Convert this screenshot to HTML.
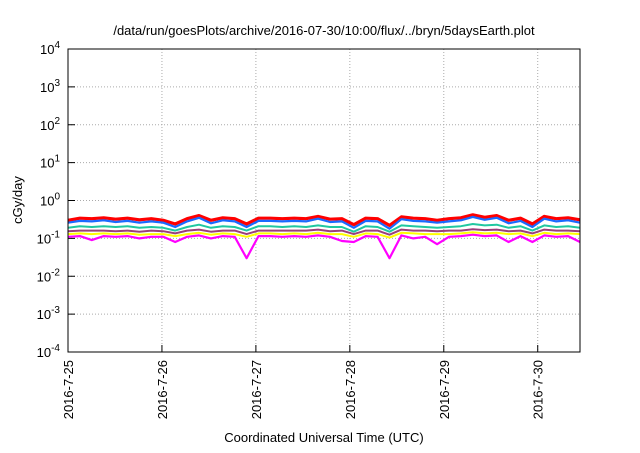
<!DOCTYPE html>
<html><head><meta charset="utf-8"><style>
body{margin:0;background:#fff;width:640px;height:448px;overflow:hidden}
svg text{font-family:"Liberation Sans",sans-serif;fill:#000}
</style></head><body>
<svg id="chart" width="640" height="448" viewBox="0 0 640 448">
<text x="324" y="35" font-size="13" text-anchor="middle">/data/run/goesPlots/archive/2016-07-30/10:00/flux/../bryn/5daysEarth.plot</text>
<g id="grid"></g>
<g id="series"></g>
<rect x="68" y="49" width="512" height="303" fill="none" stroke="#000" stroke-width="1"/>
<g id="axes"></g>
<text transform="translate(22,200) rotate(-90)" font-size="13" text-anchor="middle">cGy/day</text>
<text x="324" y="442" font-size="13" text-anchor="middle">Coordinated Universal Time (UTC)</text>
</svg>
<script>
const xTickLabels=["2016-7-25","2016-7-26","2016-7-27","2016-7-28","2016-7-29","2016-7-30"];
const yExps=[-4,-3,-2,-1,0,1,2,3,4];
const spanDays=5.45;
const red=[0.30,0.34,0.33,0.35,0.32,0.34,0.31,0.33,0.30,0.24,0.33,0.40,0.30,0.35,0.33,0.24,0.34,0.34,0.33,0.34,0.33,0.38,0.32,0.33,0.23,0.34,0.33,0.22,0.37,0.34,0.33,0.30,0.33,0.35,0.42,0.36,0.40,0.30,0.34,0.24,0.38,0.33,0.35,0.31];
const blue=[0.26,0.29,0.28,0.30,0.27,0.29,0.26,0.28,0.26,0.20,0.28,0.35,0.25,0.30,0.28,0.20,0.29,0.29,0.28,0.29,0.28,0.33,0.27,0.28,0.19,0.29,0.28,0.18,0.32,0.29,0.28,0.26,0.28,0.30,0.37,0.31,0.35,0.25,0.29,0.20,0.33,0.28,0.30,0.26];
const cyan=[0.19,0.21,0.20,0.21,0.20,0.21,0.19,0.20,0.19,0.16,0.20,0.23,0.19,0.21,0.20,0.16,0.21,0.21,0.20,0.21,0.20,0.22,0.20,0.20,0.15,0.21,0.20,0.15,0.22,0.21,0.20,0.19,0.20,0.21,0.24,0.22,0.23,0.19,0.21,0.16,0.22,0.20,0.21,0.19];
const purple=[0.155,0.16,0.16,0.16,0.155,0.16,0.15,0.16,0.155,0.135,0.16,0.17,0.15,0.16,0.16,0.13,0.16,0.16,0.16,0.16,0.16,0.17,0.155,0.16,0.13,0.16,0.16,0.125,0.17,0.16,0.16,0.155,0.16,0.16,0.175,0.165,0.17,0.155,0.16,0.135,0.17,0.16,0.16,0.155];
const yellow=[0.13,0.135,0.13,0.135,0.13,0.135,0.125,0.13,0.13,0.115,0.13,0.14,0.125,0.135,0.13,0.11,0.135,0.135,0.13,0.135,0.13,0.14,0.13,0.13,0.11,0.135,0.13,0.105,0.14,0.135,0.13,0.13,0.13,0.135,0.145,0.135,0.14,0.13,0.135,0.115,0.14,0.13,0.135,0.13];
const magenta=[0.11,0.115,0.09,0.115,0.11,0.115,0.10,0.11,0.11,0.08,0.11,0.12,0.10,0.115,0.11,0.03,0.115,0.115,0.11,0.115,0.11,0.12,0.11,0.085,0.08,0.115,0.11,0.03,0.12,0.10,0.11,0.07,0.11,0.115,0.125,0.115,0.12,0.08,0.115,0.08,0.12,0.11,0.115,0.08];
const L=68,R=580,T=49,B=352;
const xs=d=>L+(R-L)*d/spanDays;
const ys=v=>B-(Math.log10(v)+4)*(B-T)/8;
const NS="http://www.w3.org/2000/svg";
const mk=(t,a,p)=>{const e=document.createElementNS(NS,t);for(const k in a)e.setAttribute(k,a[k]);p.appendChild(e);return e;};
const grid=document.getElementById('grid'),axes=document.getElementById('axes'),ser=document.getElementById('series');
yExps.forEach(e=>{const y=ys(Math.pow(10,e));
 if(e>-4&&e<4){const g=mk('line',{x1:L,x2:R,y1:y,y2:y,stroke:'#aaa','stroke-dasharray':'1,2'},grid);
 
 }
 const t=mk('line',{x1:L,x2:L+7,y1:y,y2:y,stroke:'#000'},axes);
 
 
 const tx=mk('text',{x:L-8,y:y+5,'font-size':13,'text-anchor':'end'},axes);
 
 
 tx.innerHTML='10<tspan dy="-6" font-size="10">'+e+'</tspan>';
});
xTickLabels.forEach((lab,i)=>{const x=xs(i);
 if(i>0){const g=mk('line',{x1:x,x2:x,y1:T,y2:B,stroke:'#aaa','stroke-dasharray':'1,2'},grid);
 
 }
 const t=mk('line',{x1:x,x2:x,y1:B,y2:B-7,stroke:'#000'},axes);
 
 
 const tx=mk('text',{transform:`translate(${x+5},${B+8}) rotate(-90)`,'font-size':13,'text-anchor':'end'},axes);
 
 
 tx.textContent=lab;
});
const seriesList=[[magenta,'#ff00ff','magenta',2.2],[yellow,'#ffff00','yellow',2],[purple,'#9b3f7a','purple',2],[cyan,'#20c8a0','cyan',2],[red,'#ff0000','red',3.2],[blue,'#1a6aff','blue',2.2]];
seriesList.forEach(([arr,col,nm,w])=>{
 const n=arr.length;const pts=arr.map((v,i)=>xs(i*spanDays/(n-1)).toFixed(1)+','+ys(v).toFixed(1)).join(' ');
 const p=mk('polyline',{points:pts,fill:'none',stroke:col,'stroke-width':w,'stroke-linejoin':'round'},ser);
 
 
});
</script>
</body></html>
